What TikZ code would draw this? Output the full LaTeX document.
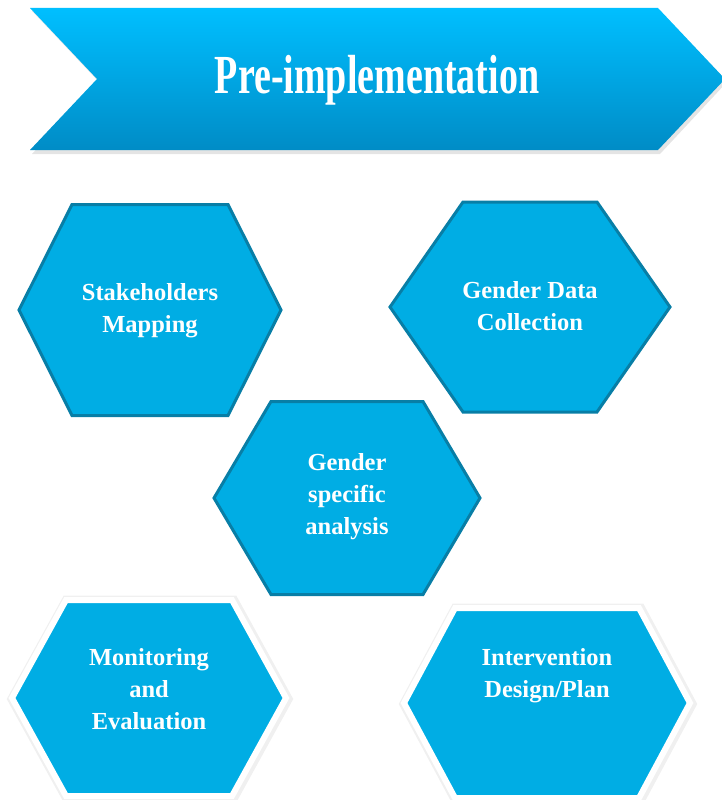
\documentclass[tikz,border=0pt]{standalone}
\usepackage{fontspec}
\setmainfont{Liberation Serif}
\usepackage{tikz}
\usetikzlibrary{shadows}
\usepackage{xcolor}
\definecolor{hexblue}{RGB}{0,173,228}
\definecolor{hexedge}{RGB}{8,126,166}
\definecolor{bantop}{RGB}{0,191,255}
\definecolor{banbot}{RGB}{0,140,198}
% hexagon: centre x, centre y, half width, half height, half top edge
\newcommand{\hexa}[5]{(#1-#3,#2) -- (#1-#5,#2-#4) -- (#1+#5,#2-#4) -- (#1+#3,#2) -- (#1+#5,#2+#4) -- (#1-#5,#2+#4) -- cycle}

\begin{document}
\begin{tikzpicture}[x=1pt,y=-1pt,
    lbl/.style={text=white,font=\bfseries\fontsize{24.5}{32}\selectfont,align=center}]
    \useasboundingbox (0,0) rectangle (722,800);
    % banner
    \fill[black!30,opacity=0.35] (32,11) -- (660,11) -- (727,82) -- (660,154) -- (32,154) -- (99,82) -- cycle;
    \shade[top color=bantop,bottom color=banbot] (30,8) -- (658,8) -- (725,79) -- (658,150) -- (30,150) -- (97,79) -- cycle;
    \node[text=white,font=\bfseries\fontsize{38}{40}\selectfont] (title) at (377,80) {\scalebox{1}[1.45]{Pre-implementation}};
    % hexagons with dark edge
    \filldraw[fill=hexblue,draw=hexedge,line width=3pt] \hexa{150}{310}{131}{105.5}{78};
    \filldraw[fill=hexblue,draw=hexedge,line width=3pt] \hexa{530}{307}{140}{105}{67};
    \filldraw[fill=hexblue,draw=hexedge,line width=3pt] \hexa{347}{498}{133}{96.5}{76};
    % hexagons with white edge
    \foreach \cx/\cy/\hw/\hh/\tw in {149/698/137/98/83, 547/703/143/95/92}{
      \draw[black!20,line width=11pt,opacity=0.3] \hexa{\cx+1}{\cy+1}{\hw}{\hh}{\tw};
      \filldraw[fill=hexblue,draw=white,line width=6pt] \hexa{\cx}{\cy}{\hw}{\hh}{\tw};
    }
    \node[lbl] (stake) at (150,311) {Stakeholders\\Mapping};
    \node[lbl] (gdata) at (530,306) {Gender Data\\Collection};
    \node[lbl] (gspec) at (347,497) {Gender\\specific\\analysis};
    \node[lbl] (monit) at (149,689) {Monitoring\\and\\Evaluation};
    \node[lbl] (interv) at (547,676) {Intervention\\Design/Plan};
\end{tikzpicture}
\end{document}
